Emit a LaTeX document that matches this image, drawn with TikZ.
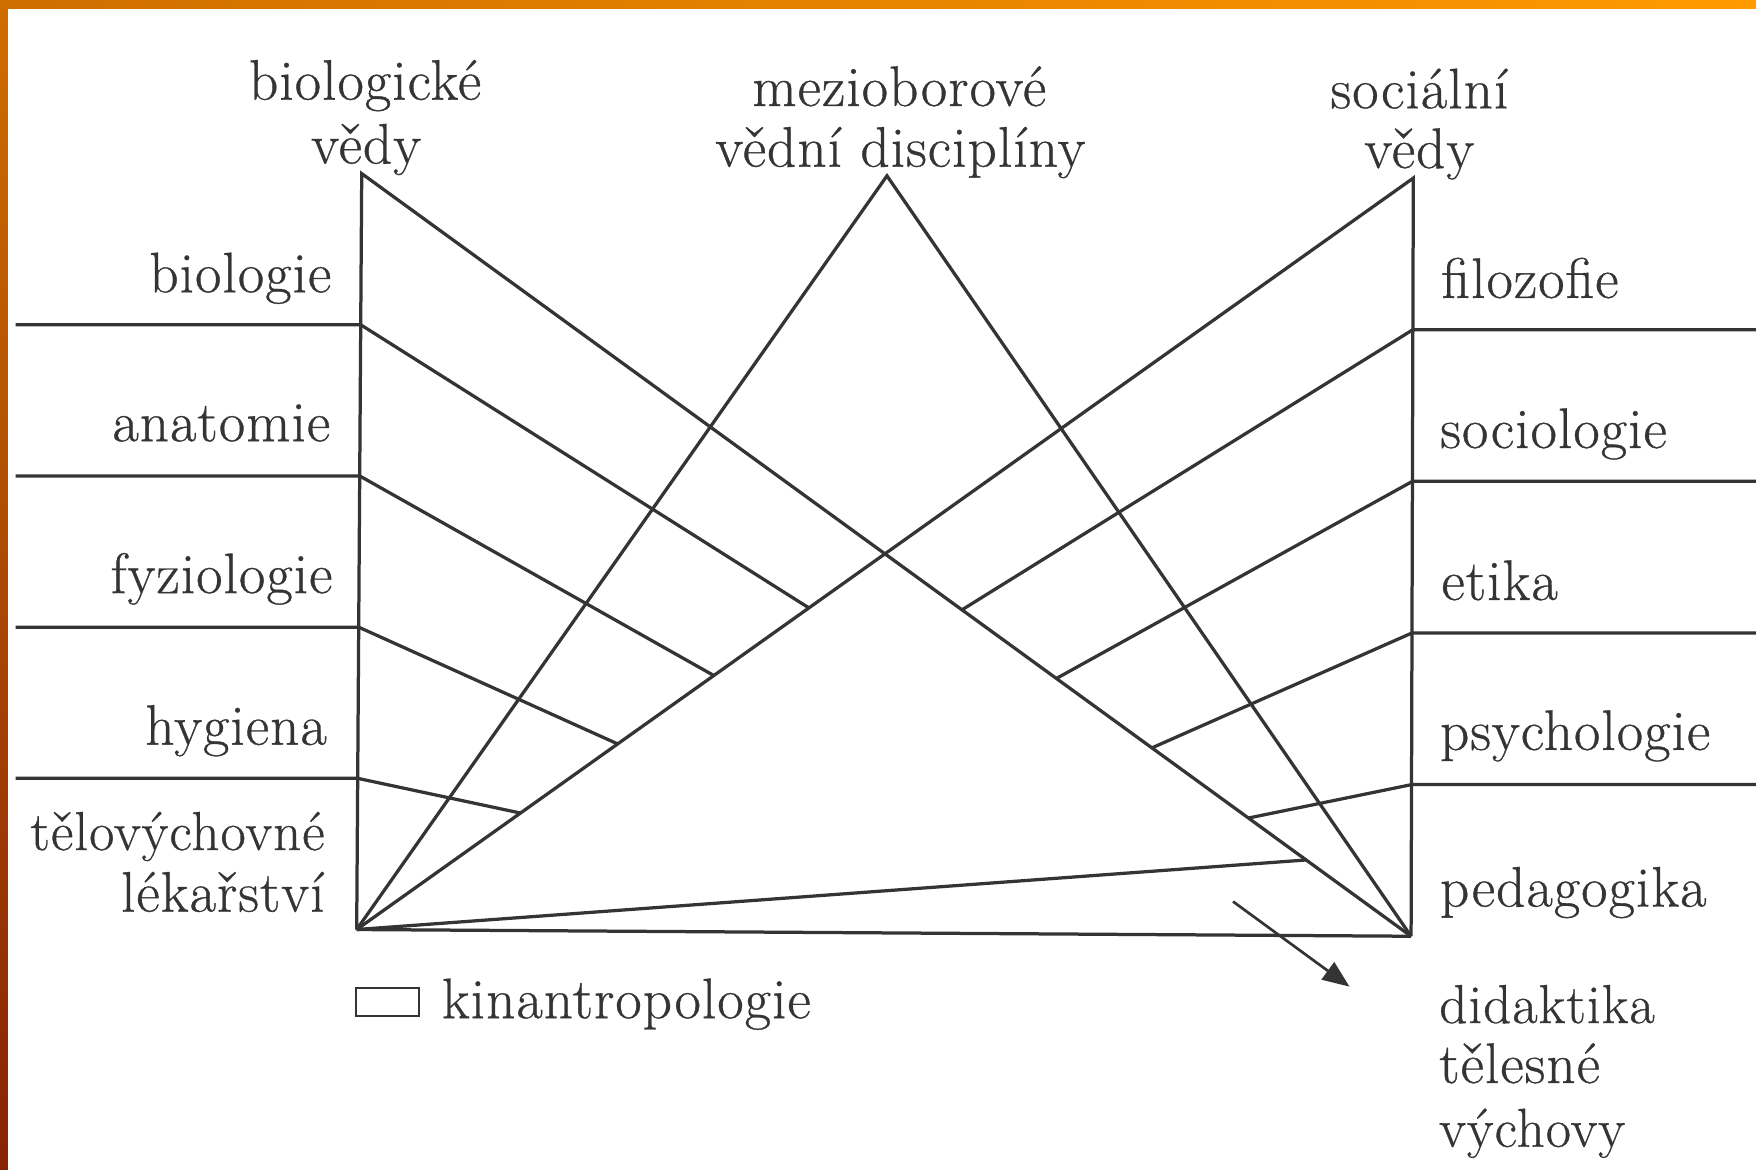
\documentclass[tikz,border=0pt]{standalone}
\usepackage{fontspec}
\setmainfont{Latin Modern Roman}[FakeBold=0.6,LetterSpace=2]
\usetikzlibrary{arrows.meta,calc}
\definecolor{ink}{RGB}{52,52,52}
\definecolor{bandA}{RGB}{206,110,0}
\definecolor{bandB}{RGB}{255,154,0}
\definecolor{bandC}{RGB}{135,35,5}

\begin{document}
\begin{tikzpicture}[x=1pt,y=-1pt,
  edge/.style={draw=ink,line width=2.9pt,line join=miter},
  lbl/.style={inner sep=0pt,text=ink,font=\fontsize{51}{60}\selectfont},
  lblsm/.style={lbl,font=\fontsize{49}{60}\selectfont},
]
\useasboundingbox (0,0) rectangle (1568,1044);
\fill[white] (0,0) rectangle (1568,1044);

% slide frame: orange band on top, darkening band on the left
\shade[left color=bandA,right color=bandB] (0,0) rectangle (1568,8);
\shade[top color=bandA,bottom color=bandC] (0,0) rectangle (7,1044);

% corners of the three triangles
\coordinate (BV) at (323,155);
\coordinate (SV) at (1262,159);
\coordinate (M)  at (792,157);
\coordinate (BL) at (318.5,830);
\coordinate (BR) at (1260,836);
\coordinate (lEdge) at (14,0);
\coordinate (rEdge) at (1568,0);

% junctions on the two verticals and the ends of the fan lines
\foreach \t [count=\i] in {0.2,0.4,0.6,0.8} {
  \coordinate (L\i) at ($(BV)!\t!(BL)$);
  \coordinate (R\i) at ($(SV)!\t!(BR)$);
}
\foreach \t [count=\i] in {0.572,0.662,0.753,0.845} {
  \coordinate (LE\i) at ($(SV)!\t!(BL)$);
  \coordinate (RE\i) at ($(BV)!\t!(BR)$);
}
\coordinate (RE5) at ($(BV)!0.9!(BR)$);

% main triangles
\draw[edge] (BL) -- (BV) -- (BR);
\draw[edge] (BR) -- (SV) -- (BL);
\draw[edge] (BL) -- (M) -- (BR);
\draw[edge] (BL) -- (BR);

% discipline rows and the fan lines
\foreach \i in {1,...,4} {
  \draw[edge] (lEdge |- L\i) -- (L\i) -- (LE\i);
  \draw[edge] (rEdge |- R\i) -- (R\i) -- (RE\i);
}
\draw[edge] (BL) -- (RE5);

% arrow towards the didactics label
\coordinate (arS) at (1101,805);
\coordinate (arE) at (1205,881);
\draw[edge,line width=2.4pt,-{Triangle[length=24pt,width=19pt]}] (arS) -- (arE);

% headings
\node[lbl,anchor=base] (bio1) at (326,89) {biologické};
\node[lbl,anchor=base] (bio2) at (327,146) {vědy};
\node[lbl,anchor=base] (mez1) at (803,94.6) {mezioborové};
\node[lbl,anchor=base] (mez2) at (804,148.8) {vědní disciplíny};
\node[lbl,anchor=base] (soc1) at (1267.5,96.7) {sociální};
\node[lbl,anchor=base] (soc2) at (1267.4,150) {vědy};

% biological sciences
\node[lbl,anchor=base east] (biol) at (296,261) {biologie};
\node[lbl,anchor=base east] (anat) at (295,394) {anatomie};
\node[lbl,anchor=base east] (fyz)  at (297,529.6) {fyziologie};
\node[lbl,anchor=base east] (hyg)  at (292,665) {hygiena};
\node[lblsm,anchor=base east] (tv1)  at (290,759) {tělovýchovné};
\node[lbl,anchor=base east] (tv2)  at (290,814) {lékařství};

% social sciences
\node[lbl,anchor=base west] (filo) at (1287,266) {filozofie};
\node[lbl,anchor=base west] (soci) at (1286,400) {sociologie};
\node[lbl,anchor=base west] (etik) at (1287,535.7) {etika};
\node[lbl,anchor=base west] (psy)  at (1285.7,669.6) {psychologie};
\node[lbl,anchor=base west] (ped)  at (1285.7,809.5) {pedagogika};
\node[lblsm,anchor=base west] (did1) at (1285,913.5) {didaktika};
\node[lbl,anchor=base west] (did2) at (1285,967) {tělesné};
\node[lblsm,anchor=base west] (did3) at (1285,1024) {výchovy};

% legend
\node[draw=ink,line width=1.6pt,minimum width=56pt,minimum height=25pt,inner sep=0pt] (key) at (346.2,895) {};
\node[lbl,anchor=base west] (kin) at (394.4,909.2) {kinantropologie};
\end{tikzpicture}
\end{document}
